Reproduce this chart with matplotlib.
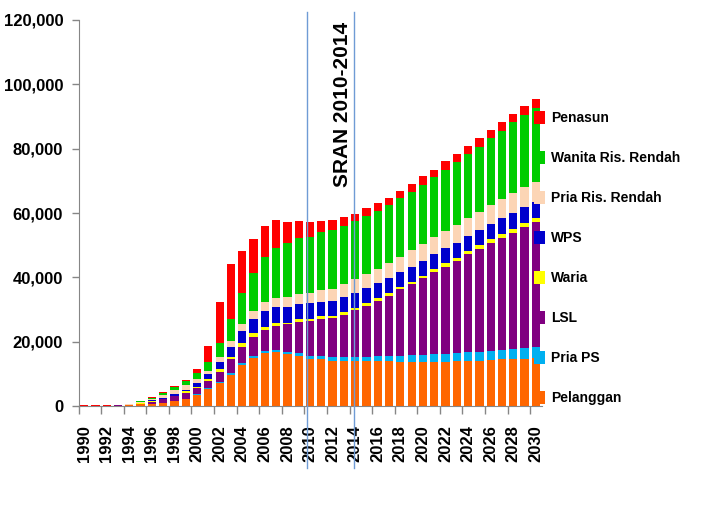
import matplotlib
matplotlib.use("Agg")
import matplotlib.pyplot as plt
from matplotlib.ticker import FuncFormatter, MultipleLocator, FixedLocator
import numpy as np

plt.rcParams["font.family"] = ["Liberation Sans", "DejaVu Sans"]

years = list(range(1990, 2031))

# stacked from bottom to top
pelanggan = [0, 0, 0, 50, 200, 500, 700, 1000, 1500, 2100,
             3400, 5200, 7150, 9550, 12750, 15000, 16400, 16700, 16100, 15650,
             14500, 14500, 14100, 13900, 13900, 13900, 14000, 14000, 13800, 13800,
             13800, 13800, 13800, 14000, 14100, 14100, 14300, 14500, 14600, 14700, 14850]
pria_ps = [0, 0, 0, 0, 0, 30, 50, 50, 100, 150,
           300, 300, 400, 600, 500, 600, 700, 700, 800, 950,
           1150, 1050, 1050, 1250, 1250, 1250, 1550, 1550, 1850, 2000,
           2100, 2300, 2400, 2400, 2600, 2800, 2900, 2900, 3100, 3400, 3600]
lsl = [0, 0, 0, 300, 50, 200, 500, 1050, 1450, 1900,
       1800, 2400, 3100, 4350, 5000, 5700, 6550, 7550, 8500, 9650,
       10800, 11600, 12100, 13250, 14700, 16050, 17200, 18750, 20650, 22100,
       23850, 25600, 27150, 28800, 30600, 31900, 33400, 34900, 36200, 37500, 38700]
waria = [0, 0, 0, 0, 100, 200, 200, 200, 200, 400,
         500, 500, 850, 800, 1250, 1250, 850, 950, 500, 750,
         600, 850, 800, 750, 700, 750, 750, 750, 600, 800,
         700, 850, 1050, 950, 950, 1250, 1250, 1150, 1050, 1150, 1250]
wps = [0, 0, 0, 0, 0, 50, 300, 250, 400, 500,
       1150, 1550, 2300, 3100, 3800, 4450, 5100, 4800, 5000, 4750,
       4900, 4450, 4550, 4650, 4500, 4650, 4650, 4650, 4650, 4650,
       4650, 4650, 4650, 4650, 4650, 4650, 4650, 4900, 5000, 5000, 5150]
pria_risti = [0, 0, 0, 0, 200, 200, 500, 850, 1450, 1350,
              1250, 1000, 1350, 1850, 2200, 2600, 2700, 2800, 3100, 3000,
              3100, 3650, 3750, 4050, 4350, 4450, 4450, 4850, 4850, 5200,
              5300, 5300, 5400, 5500, 5700, 5700, 6000, 6000, 6200, 6400, 6200]
wanita_risti = [0, 0, 0, 0, 0, 300, 350, 600, 900, 1350,
                1800, 2800, 4350, 6750, 9550, 11800, 13900, 15550, 16600, 17400,
                17600, 18100, 18350, 18200, 18150, 18150, 18150, 17950, 18150, 18050,
                18350, 18550, 19000, 19700, 19800, 20200, 20750, 21250, 22100, 22300, 23000]
penasun = [200, 250, 300, 100, 200, 100, 200, 200, 300, 350,
           1350, 5000, 12900, 17000, 13250, 10400, 9650, 8800, 6500, 5500,
           4500, 3300, 3000, 2600, 2200, 2300, 2300, 2300, 2350, 2500,
           2600, 2400, 2600, 2400, 2500, 2800, 2600, 2800, 2600, 2800, 2700]

series = [
    ("Pelanggan", pelanggan, "#FF6600"),
    ("Pria PS", pria_ps, "#00B0F0"),
    ("LSL", lsl, "#800080"),
    ("Waria", waria, "#FFFF00"),
    ("WPS", wps, "#0000CC"),
    ("Pria Ris. Rendah", pria_risti, "#FCD5B5"),
    ("Wanita Ris. Rendah", wanita_risti, "#00CC00"),
    ("Penasun", penasun, "#FF0000"),
]

W, H = 708, 513
fig = plt.figure(figsize=(W / 100, H / 100), dpi=100)
ax = fig.add_axes([78.5 / W, 1 - 406 / H, 463 / W, 386 / H])

pos = np.arange(len(years))
bottom = np.zeros(len(years))
bars = []
for name, values, color in series:
    values = np.array(values, dtype=float)
    b = ax.bar(pos, values, width=0.73, bottom=bottom, color=color, label=name,
               linewidth=0)
    bars.append(b)
    bottom += values

ax.set_xlim(-0.5, len(years) - 0.5)
ax.set_ylim(0, 120000)

# y axis
ax.yaxis.set_major_locator(MultipleLocator(20000))
ax.yaxis.set_major_formatter(FuncFormatter(lambda v, _: f"{v:,.0f}"))
ax.tick_params(axis="y", length=5, width=1, color="#868686", pad=6,
               labelsize=12)
for lbl in ax.get_yticklabels():
    lbl.set_fontweight("bold")

# x axis: labels every 2 years, marks on category boundaries
ax.xaxis.set_major_locator(FixedLocator(pos[::2]))
ax.set_xticklabels([str(y) for y in years[::2]], rotation=90, fontweight="bold",
                   fontsize=12)
ax.xaxis.set_minor_locator(FixedLocator(np.arange(-0.5, len(years), 2)))
ax.tick_params(axis="x", which="major", length=0, pad=14)
ax.tick_params(axis="x", which="minor", length=6, width=1, color="#868686")

for side in ("top", "right"):
    ax.spines[side].set_visible(False)
for side in ("left", "bottom"):
    ax.spines[side].set_color("#868686")

# SRAN period markers
for xv in (19.75, 23.9):
    ax.axvline(xv, ymin=-0.16, ymax=1.021, color="#6F9BD5", linewidth=1,
               clip_on=False, zorder=5)
ax.text(22.9, 119500, "SRAN 2010-2014", rotation=90, ha="center", va="top",
        fontsize=15, fontweight="bold", color="black")

handles = bars[::-1]
labels = [s[0] for s in series][::-1]
fig.legend(handles, labels, loc="upper left",
           bbox_to_anchor=(534 / W, 1 - 111 / H), frameon=False,
           borderpad=0, borderaxespad=0, handlelength=0.8, handleheight=1.05,
           handletextpad=0.45, labelspacing=1.86,
           prop={"weight": "bold", "size": 10})

fig.savefig("out.png", dpi=100, facecolor="white")
